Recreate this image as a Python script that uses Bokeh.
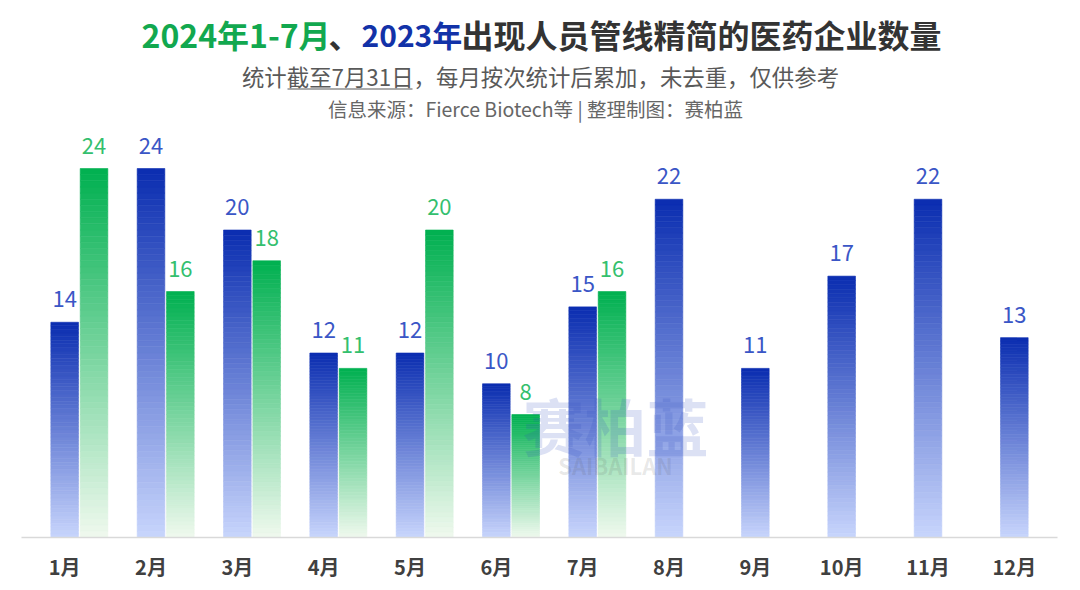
from bokeh.plotting import figure
from bokeh.models import Range1d, FixedTicker, Label, BoxAnnotation, ColumnDataSource
from bokeh.core.properties import value
from bokeh.embed import file_html
from bokeh.resources import INLINE

months = ["1月", "2月", "3月", "4月", "5月", "6月", "7月", "8月", "9月", "10月", "11月", "12月"]
v2023 = [14, 24, 20, 12, 12, 10, 15, 22, 11, 17, 22, 13]
v2024 = [24, 16, 18, 11, 20, 8, 16]

FONT = "Noto Sans CJK SC"
BLUE_TOP, BLUE_BOT = "#0a2db0", "#c8d5fc"
GREEN_TOP, GREEN_BOT = "#00b050", "#f0f9ee"
BLUE_TXT, GREEN_TXT = "#3a56c6", "#34bf6e"
BAR_W = 0.32
GREEN_OFF = 0.34
NSEG = 60


def mix(c1, c2, t):
    a = [int(c1[i:i + 2], 16) for i in (1, 3, 5)]
    b = [int(c2[i:i + 2], 16) for i in (1, 3, 5)]
    return "#%02x%02x%02x" % tuple(round(a[k] + (b[k] - a[k]) * t) for k in range(3))


def gradient_source(xs, vals, top_c, bot_c):
    d = dict(x=[], bottom=[], top=[], color=[])
    for x, v in zip(xs, vals):
        for i in range(NSEG):
            d["x"].append(x)
            d["bottom"].append(v * i / NSEG)
            d["top"].append(v * (i + 1) / NSEG)
            d["color"].append(mix(bot_c, top_c, (i + 0.5) / NSEG))
    return ColumnDataSource(d)


# frame: left 21, right 1057, top 0, bottom 537 (canvas px)
W, H = 1064, 584
PX_PER_UNIT = 15.375
p = figure(width=W, height=H, x_range=Range1d(-0.5, 11.5), y_range=Range1d(0, 537 / PX_PER_UNIT),
           output_backend="svg", toolbar_location=None, y_axis_location=None,
           min_border_left=21, min_border_right=W - 1057, min_border_top=0, min_border_bottom=H - 537)
p.outline_line_color = None
p.xgrid.visible = False
p.ygrid.visible = False
p.background_fill_color = "white"
p.border_fill_color = "white"

x23 = list(range(len(v2023)))
x24 = [i + GREEN_OFF for i in range(len(v2024))]

s23 = gradient_source(x23, v2023, BLUE_TOP, BLUE_BOT)
s24 = gradient_source(x24, v2024, GREEN_TOP, GREEN_BOT)
p.vbar(x="x", bottom="bottom", top="top", width=BAR_W, fill_color="color", line_color="color",
       line_width=0.6, source=s23)
p.vbar(x="x", bottom="bottom", top="top", width=BAR_W, fill_color="color", line_color="color",
       line_width=0.6, source=s24)

p.text(x=x23, y=v2023, text=[str(v) for v in v2023], text_align="center", text_baseline="bottom",
       y_offset=-15, text_font_size="22px", text_color=BLUE_TXT, text_font=value(FONT))
p.text(x=x24, y=v2024, text=[str(v) for v in v2024], text_align="center", text_baseline="bottom",
       y_offset=-15, text_font_size="22px", text_color=GREEN_TXT, text_font=value(FONT))

ax = p.xaxis[0]
ax.ticker = FixedTicker(ticks=list(range(len(months))))
ax.major_label_overrides = {i: m for i, m in enumerate(months)}
ax.axis_line_color = "#d9d9d9"
ax.axis_line_width = 1.5
ax.major_tick_line_color = None
ax.minor_tick_line_color = None
ax.major_tick_out = 0
ax.major_tick_in = 0
ax.major_label_standoff = 14
ax.major_label_text_font = FONT
ax.major_label_text_font_size = "20px"
ax.major_label_text_font_style = "bold"
ax.major_label_text_color = "#404040"

# screen units of labels are measured from the frame's bottom-left corner
FX, FY = 21, 537


def lab(text, ix, iy, size, color, bold=False, align="left", alpha=1.0):
    p.add_layout(Label(x=ix - FX, y=FY - iy, x_units="screen", y_units="screen", text=text,
                       text_font=FONT, text_font_size=size, text_color=color,
                       text_font_style="bold" if bold else "normal", text_align=align,
                       text_baseline="middle", text_alpha=alpha))


# watermark
lab("赛柏蓝", 615, 424, "62px", "#3050c0", bold=True, align="center", alpha=0.17)
lab("SAIBAILAN", 615, 464, "22px", "#555555", bold=True, align="center", alpha=0.14)

# title pieces
lab("2024年1-7月", 141, 33, "32px", "#12a84f", bold=True)
lab("、", 328, 33, "32px", "#333333", bold=True)
lab("2023年", 361, 33, "30px", "#1232a8", bold=True)
lab("出现人员管线精简的医药企业数量", 461, 33, "32px", "#333333", bold=True)

lab("统计截至7月31日，每月按次统计后累加，未去重，仅供参考", 540, 75, "22.4px", "#595959", align="center")
lab("信息来源：Fierce Biotech等 | 整理制图：赛柏蓝", 535, 108, "19.5px", "#666666", align="center")
p.add_layout(BoxAnnotation(left=287 - FX, right=412 - FX, bottom=FY - 89, top=FY - 88,
                           left_units="screen", right_units="screen", bottom_units="screen",
                           top_units="screen", fill_color="#595959", fill_alpha=1, line_color=None))

open("out.html", "w").write(file_html(p, INLINE))
